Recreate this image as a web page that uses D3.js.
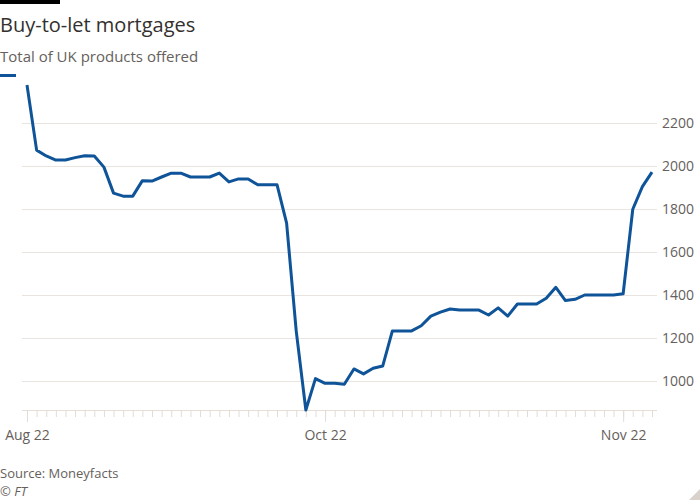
<!DOCTYPE html>
<html>
<head>
<meta charset="utf-8">
<script src="https://cdn.jsdelivr.net/npm/d3@7"></script>
<style>
  html, body { margin: 0; padding: 0; background: #ffffff; }
  svg { display: block; }
  text { font-family: "Open Sans", "Noto Sans", sans-serif; }
</style>
</head>
<body>
<svg id="chart" width="700" height="500"></svg>
<script>
// ---- Data ----
const title = "Buy-to-let mortgages";
const subtitle = "Total of UK products offered";
const source = "Source: Moneyfacts";
const credit = "© FT";

// Total number of UK buy-to-let products offered, one value per observation
const products = [
  2377, 2074, 2047, 2028, 2028, 2039, 2048, 2047, 1995, 1874,
  1860, 1860, 1932, 1930, 1949, 1967, 1967, 1949, 1949, 1949,
  1967, 1926, 1940, 1940, 1913, 1913, 1913, 1734, 1232, 865,
  1011, 989, 989, 985, 1056, 1033, 1059, 1070, 1233, 1233,
  1233, 1257, 1302, 1320, 1335, 1330, 1330, 1330, 1307, 1340,
  1302, 1358, 1358, 1358, 1385, 1436, 1374, 1380, 1400, 1400,
  1400, 1400, 1406, 1799, 1904, 1972
];

// x-axis labels and the observation index they sit at
const xTickLabels = ["Aug 22", "Oct 22", "Nov 22"];
const xTickIndex = [0, 31, 62];

// y-axis tick values
const yTicks = [1000, 1200, 1400, 1600, 1800, 2000, 2200];

// ---- Drawing ----
const svg = d3.select("#chart");
const left = 22, right = 657;

const x = d3.scaleLinear()
  .domain([0, products.length - 1])
  .range([27, 652]);

const y = d3.scaleLinear()
  .domain(d3.extent(products))
  .range([410, 85]);

// top rule
svg.append("rect").attr("x", 0).attr("y", 0).attr("width", 60).attr("height", 4).attr("fill", "#000");

// title & subtitle
svg.append("text").attr("x", 0).attr("y", 32)
  .attr("font-size", 20).attr("fill", "#33302e").text(title);
svg.append("text").attr("x", 0).attr("y", 62)
  .attr("font-size", 15).attr("fill", "#66605c").text(subtitle);

// legend swatch
svg.append("line").attr("x1", 0).attr("x2", 16).attr("y1", 75.5).attr("y2", 75.5)
  .attr("stroke", "#0f5499").attr("stroke-width", 3);

// y axis with gridlines
const yAxis = svg.append("g")
  .attr("transform", `translate(${right},0)`)
  .call(d3.axisRight(y).tickValues(yTicks).tickSize(-(right - left)).tickPadding(5).tickFormat(d3.format("d")));
yAxis.select(".domain").remove();
yAxis.selectAll(".tick line").attr("stroke", "#e9e4df").attr("stroke-width", 1);
yAxis.selectAll(".tick text").attr("fill", "#66605c").attr("font-size", 14)
  .attr("font-family", "\"Open Sans\", \"Noto Sans\", sans-serif");

// x baseline
svg.append("line").attr("x1", left).attr("x2", right).attr("y1", 410.5).attr("y2", 410.5)
  .attr("stroke", "#e6dfd8").attr("stroke-width", 1);

// x minor ticks (one per observation)
const xMinor = svg.append("g")
  .attr("transform", "translate(0,410)")
  .call(d3.axisBottom(x).tickValues(d3.range(products.length)).tickSize(7).tickFormat(""));
xMinor.select(".domain").remove();
xMinor.selectAll(".tick line").attr("stroke", "#e3dcd5");

// x labelled ticks
const xMajor = svg.append("g")
  .attr("transform", "translate(0,410)")
  .call(d3.axisBottom(x).tickValues(xTickIndex).tickSize(12).tickPadding(8)
    .tickFormat((d, i) => xTickLabels[i]));
xMajor.select(".domain").remove();
xMajor.selectAll(".tick line").attr("stroke", "#e3dcd5");
xMajor.selectAll(".tick text").attr("fill", "#66605c").attr("font-size", 14)
  .attr("font-family", "\"Open Sans\", \"Noto Sans\", sans-serif");

// line
const line = d3.line()
  .x((d, i) => x(i))
  .y(d => y(d));
svg.append("path").datum(products)
  .attr("d", line)
  .attr("fill", "none")
  .attr("stroke", "#0f5499")
  .attr("stroke-width", 3)
  .attr("stroke-linejoin", "round");

// source and credit
svg.append("text").attr("x", 0).attr("y", 478)
  .attr("font-size", 13).attr("fill", "#66605c").text(source);
svg.append("text").attr("x", 0).attr("y", 496)
  .attr("font-size", 13).attr("font-style", "italic").attr("fill", "#66605c").text(credit);

// corner mark
svg.append("path").attr("d", "M700,489 L700,500 L689,500 Z").attr("fill", "#d9d2cc");
</script>
</body>
</html>
